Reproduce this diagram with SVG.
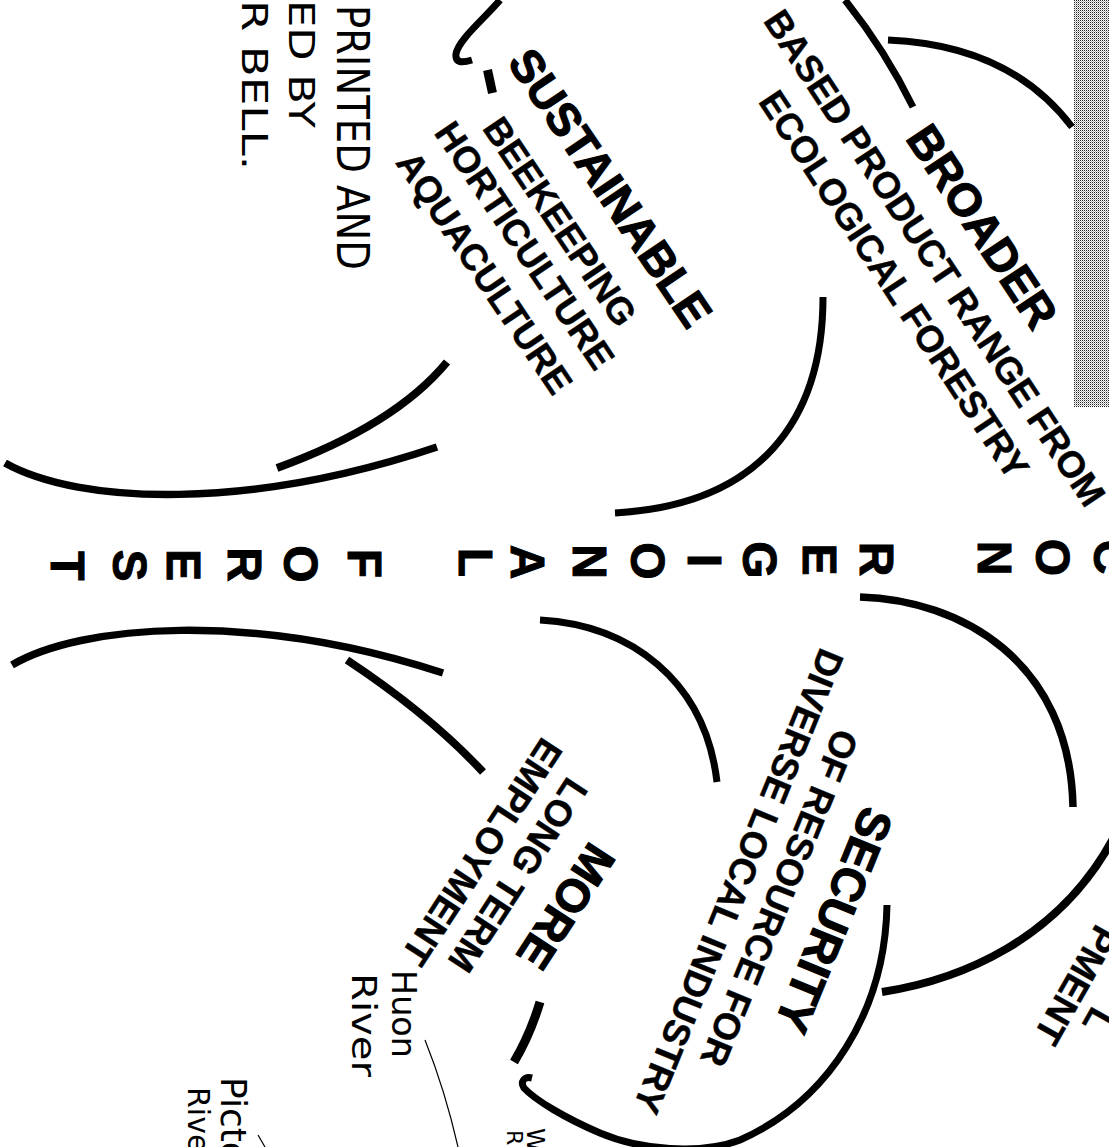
<svg xmlns="http://www.w3.org/2000/svg" width="1109" height="1147" viewBox="0 0 1109 1147">
<style>
.h{font-family:'Liberation Sans',Arial,sans-serif;font-weight:700;font-size:46px;fill:#000;stroke:#000;stroke-width:1.2}
.s{font-family:'Liberation Sans',Arial,sans-serif;font-weight:700;font-size:37px;fill:#000;stroke:#000;stroke-width:0.4}
.c{font-family:'Liberation Sans',Arial,sans-serif;font-weight:700;font-size:48px;fill:#000;stroke:#000;stroke-width:1;text-anchor:middle}
.hw{font-family:'DejaVu Sans','Liberation Sans',sans-serif;font-weight:400;fill:#000}
.arc{fill:none;stroke:#000;stroke-width:7;stroke-linecap:butt}
.thin{fill:none;stroke:#000;stroke-width:1.2}
</style>
<defs>
<pattern id="dots" width="2" height="2" patternUnits="userSpaceOnUse">
<rect width="2" height="2" fill="#fff"/>
<rect width="1" height="1" fill="#222"/>
<rect x="1" y="1" width="1" height="1" fill="#aaa"/>
</pattern>
</defs>
<rect width="1109" height="1147" fill="#fff"/>
<rect x="1074" y="0" width="35" height="407" fill="url(#dots)"/>

<g id="connectors">
<path class="arc" d="M500,0 C485,18 458,40 456,54 C455,63 462,63 472,60"/>
<path class="arc" d="M487.5,70 L492.5,93" style="stroke-width:9"/>
<path class="arc" d="M845,0 Q885,50 913,107"/>
<path class="arc" d="M888,40 Q1010,45 1072,127"/>
<path class="arc" d="M823,297 C823,420 760,505 615,513"/>
<path class="arc" d="M447,362 Q395,425 277,468" style="stroke-width:8"/>
<path class="arc" d="M5,463 C80,505 250,510 437,447" style="stroke-width:7.5"/>
<path class="arc" d="M12,665 C80,625 250,610 443,673" style="stroke-width:7.5"/>
<path class="arc" d="M347,660 Q430,715 483,772" style="stroke-width:8"/>
<path class="arc" d="M540,620 C630,625 705,680 717,782"/>
<path class="arc" d="M860,597 C960,600 1070,660 1073,807" style="stroke-width:7.5"/>
<path class="arc" d="M882,992 C960,980 1060,940 1115,835" style="stroke-width:8"/>
<path class="arc" d="M887,905 C885,1010 830,1100 740,1140 C700,1155 640,1150 600,1133 C565,1118 535,1100 524,1088 C520,1082 524,1076 532,1078"/>
<path class="arc" d="M540,1002 Q530,1035 514,1062" style="stroke-width:9"/>
<path class="thin" d="M425,1040 Q445,1090 458,1147"/>
<path class="thin" d="M258,1135 L265,1147"/>
</g>

<g id="node-regional-forest">
<text class="c" transform="translate(68,566) rotate(90)" y="17">T</text>
<text class="c" transform="translate(130,565.5) rotate(90)" y="17">S</text>
<text class="c" transform="translate(184,565) rotate(90)" y="17">E</text>
<text class="c" transform="translate(245,564.5) rotate(90)" y="17">R</text>
<text class="c" transform="translate(301,564) rotate(90)" y="17">O</text>
<text class="c" transform="translate(365,563.4) rotate(90)" y="17">F</text>
<text class="c" transform="translate(476,562.5) rotate(90)" y="17">L</text>
<text class="c" transform="translate(528,562) rotate(90)" y="17">A</text>
<text class="c" transform="translate(590,561.5) rotate(90)" y="17">N</text>
<text class="c" transform="translate(648,561) rotate(90)" y="17">O</text>
<text class="c" transform="translate(705,560.5) rotate(90)" y="17">I</text>
<text class="c" transform="translate(760,560) rotate(90)" y="17">G</text>
<text class="c" transform="translate(820,559.5) rotate(90)" y="17">E</text>
<text class="c" transform="translate(877,559) rotate(90)" y="17">R</text>
<text class="c" transform="translate(995,558) rotate(90)" y="17">N</text>
<text class="c" transform="translate(1053,557.5) rotate(90)" y="17">O</text>
<text class="c" transform="translate(1111,557) rotate(90)" y="17">C</text>
</g>

<g id="node-sustainable" transform="rotate(56)" text-anchor="middle">
<text class="h" x="497" y="-385">SUSTAINABLE</text>
<text class="s" x="497" y="-327.5">BEEKEEPING</text>
<text class="s" x="497" y="-285">HORTICULTURE</text>
<text class="s" x="497" y="-236.4">AQUACULTURE</text>
</g>

<g id="node-broader" transform="rotate(56.5)" text-anchor="middle">
<text class="h" x="731" y="-678.2">BROADER</text>
<text class="s" x="731" y="-624.3">BASED PRODUCT RANGE FROM</text>
<text class="s" x="731" y="-575.7">ECOLOGICAL FORESTRY</text>
</g>

<g id="node-security" transform="rotate(112.2)" text-anchor="middle">
<text class="h" x="537" y="-1103.5" style="font-size:47px">SECURITY</text>
<text class="s" x="537" y="-1048.1">OF RESOURCE FOR</text>
<text class="s" x="537" y="-1004.1">DIVERSE LOCAL INDUSTRY</text>
</g>

<g id="node-more" transform="rotate(123)" text-anchor="middle">
<text class="h" x="452" y="-952.5">MORE</text>
<text class="s" x="452" y="-898.3">LONG TERM</text>
<text class="s" x="452" y="-855.6">EMPLOYMENT</text>
</g>

<g id="node-development" transform="rotate(119.4)">
<text class="s" x="361.6" y="-1445" text-anchor="end">L</text>
<text class="s" x="265.4" y="-1408.1">PMENT</text>
</g>

<g id="handwriting">
<text class="hw" transform="translate(337,5) rotate(90)" style="font-size:44px" textLength="265" lengthAdjust="spacingAndGlyphs">PRINTED AND</text>
<text class="hw" transform="translate(289,0) rotate(90)" style="font-size:36px" textLength="128" lengthAdjust="spacingAndGlyphs">ED BY</text>
<text class="hw" transform="translate(242,0) rotate(90)" style="font-size:36px" textLength="170" lengthAdjust="spacingAndGlyphs">R BELL.</text>
<text class="hw" transform="translate(392,970) rotate(90)" style="font-size:34px" textLength="88" lengthAdjust="spacingAndGlyphs">Huon</text>
<text class="hw" transform="translate(352,973) rotate(90)" style="font-size:34px" textLength="104" lengthAdjust="spacingAndGlyphs">River</text>
<text class="hw" transform="translate(221,1077) rotate(90)" style="font-size:36px">Picton</text>
<text class="hw" transform="translate(188,1087) rotate(90)" style="font-size:30px">River</text>
<text class="hw" transform="translate(527,1128) rotate(90)" style="font-size:24px">W</text>
<text class="hw" transform="translate(507,1130) rotate(90)" style="font-size:22px">R</text>
</g>
</svg>
